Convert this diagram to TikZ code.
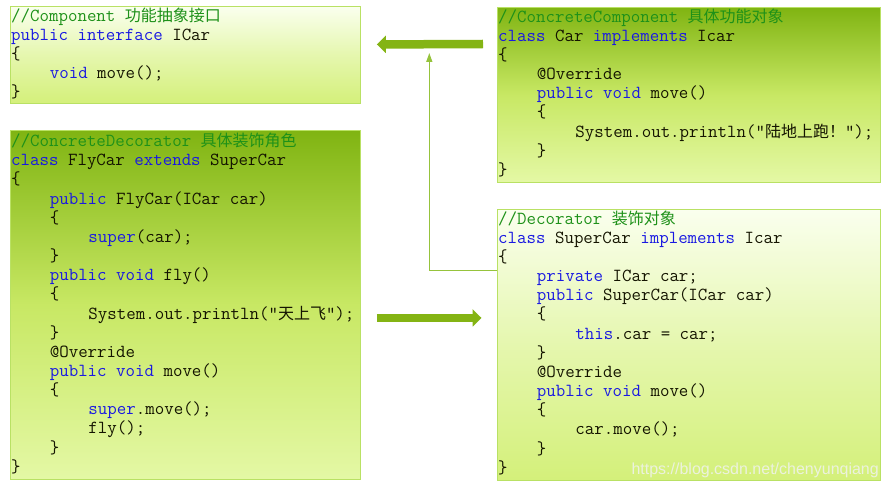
\documentclass[tikz,border=0pt]{standalone}
\usepackage{fontspec}
\setmonofont{Latin Modern Mono}
\newfontfamily\cjk{Noto Sans CJK SC}
\newfontfamily\wmfont{Liberation Sans}
\usetikzlibrary{arrows.meta}
\definecolor{kwc}{RGB}{25,25,225}
\definecolor{cmc}{RGB}{30,145,25}
\definecolor{txc}{RGB}{20,20,0}
\definecolor{dkgreen}{RGB}{128,180,18}
\definecolor{ltgreen}{RGB}{228,248,165}
\definecolor{midgreen}{RGB}{200,232,100}
\definecolor{paleg}{RGB}{250,255,238}
\definecolor{yg}{RGB}{212,240,122}
\definecolor{bordc}{RGB}{185,225,100}
\definecolor{arrc}{RGB}{132,180,20}
\definecolor{thinc}{RGB}{150,195,60}
\newcommand\kw[1]{\textcolor{kwc}{#1}}
\newcommand\cm[1]{\textcolor{cmc}{#1}}
\newcommand\ch[1]{{\cjk\fontsize{16}{19.15}\selectfont #1}}
\newcommand\ind{\hspace*{38.64pt}}
\tikzset{
  x=1pt, y=-1pt,
  lightbox/.style={draw=bordc, line width=0.9pt, top color=paleg, bottom color=yg, middle color=yg!55!paleg, anchor=north west, inner sep=0pt},
  darkbox/.style={draw=bordc, line width=0.9pt, top color=dkgreen, bottom color=ltgreen, middle color=midgreen, anchor=north west, inner sep=0pt},
  code/.style={anchor=north west, inner sep=0pt, align=left, text=txc, font=\ttfamily\fontsize{18.4}{19.15}\selectfont},
  bigarrow/.style={draw=arrc, line width=8.5pt, -{Triangle[length=9pt,width=17pt]}},
  thinarrow/.style={draw=thinc, line width=1.3pt, -{Triangle[length=9pt,width=6pt]}},
}
\begin{document}
\begin{tikzpicture}
\useasboundingbox (0,0) rectangle (890,489);
\fill[white] (0,0) rectangle (890,489);

% boxes
\node[lightbox, minimum width=350pt, minimum height=97pt] (b1) at (10,6) {};
\node[darkbox, minimum width=383pt, minimum height=175pt] (b2) at (497,7) {};
\node[darkbox, minimum width=350pt, minimum height=349pt] (b3) at (10,130) {};
\node[lightbox, minimum width=383pt, minimum height=271pt] (b4) at (497,209) {};

% code
\node[code] (t1) at (11,7.5) {\strut\cm{//Component \ch{功能抽象接口}}\\
\kw{public interface} ICar\\
\{\\
\ind\kw{void} move();\\
\}};

\node[code] (t2) at (498,8.5) {\strut\cm{//ConcreteComponent \ch{具体功能对象}}\\
\kw{class} Car \kw{implements} Icar\\
\{\\
\ind @Override\\
\ind\kw{public void} move()\\
\ind\{\\
\ind\ind System.out.println("\ch{陆地上跑！}");\\
\ind\}\\
\}};

\node[code] (t3) at (11,133) {\strut\cm{//ConcreteDecorator \ch{具体装饰角色}}\\
\kw{class} FlyCar \kw{extends} SuperCar\\
\{\\
\ind\kw{public} FlyCar(ICar car)\\
\ind\{\\
\ind\ind\kw{super}(car);\\
\ind\}\\
\ind\kw{public void} fly()\\
\ind\{\\
\ind\ind System.out.println("\ch{天上飞}");\\
\ind\}\\
\ind @Override\\
\ind\kw{public void} move()\\
\ind\{\\
\ind\ind\kw{super}.move();\\
\ind\ind fly();\\
\ind\}\\
\}};

\node[code] (t4) at (498,210.5) {\strut\cm{//Decorator \ch{装饰对象}}\\
\kw{class} SuperCar \kw{implements} Icar\\
\{\\
\ind\kw{private} ICar car;\\
\ind\kw{public} SuperCar(ICar car)\\
\ind\{\\
\ind\ind\kw{this}.car = car;\\
\ind\}\\
\ind @Override\\
\ind\kw{public void} move()\\
\ind\{\\
\ind\ind car.move();\\
\ind\}\\
\}};

% watermark
\node[anchor=base east, inner sep=0pt, text={rgb,255:red,236;green,242;blue,222}, font=\wmfont\fontsize{16}{18}\selectfont] (wm) at (879,474.5) {https://blog.csdn.net/chenyunqiang};

% connectors
\coordinate (tip) at (429.3,53);
\draw[thinarrow] ([yshift=74.3pt]b4.west) -| (tip);
\draw[bigarrow] ([xshift=-14pt,yshift=-37pt]b2.north west) -- ([xshift=16pt,yshift=10.5pt]b1.east);
\draw[bigarrow] ([xshift=16pt,yshift=-13pt]b3.east) -- ([xshift=-15.5pt,yshift=27pt]b4.west);
\end{tikzpicture}
\end{document}
